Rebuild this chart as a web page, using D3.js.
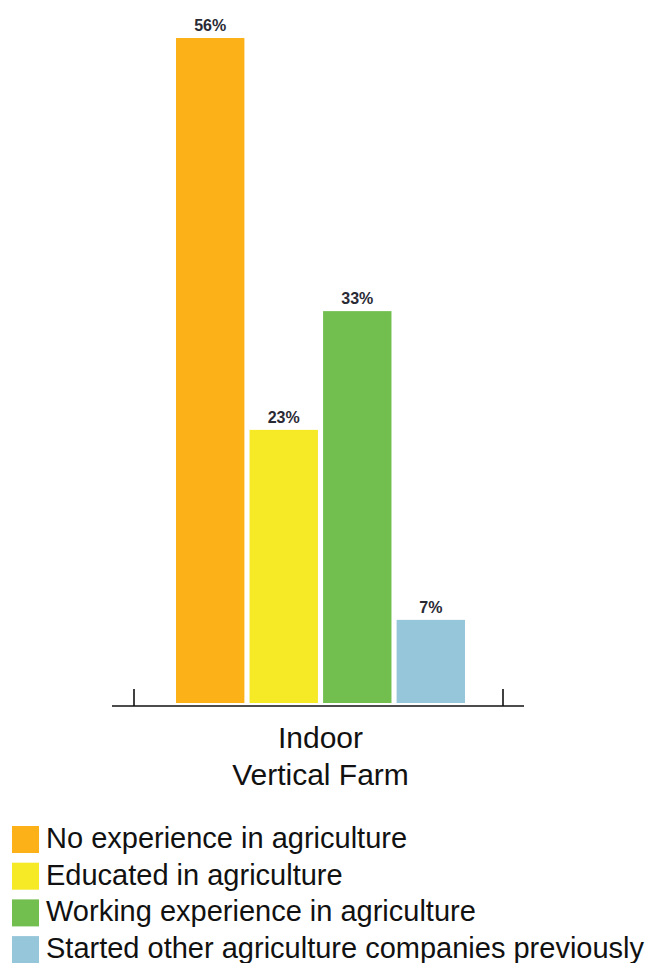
<!DOCTYPE html>
<html>
<head>
<meta charset="utf-8">
<script src="https://cdn.jsdelivr.net/npm/d3@7"></script>
<style>
  body { margin: 0; background: #fff; }
  svg { display: block; font-family: "Liberation Sans", Arial, sans-serif; }
</style>
</head>
<body>
<div id="chart"></div>
<script>
// Data
const groups = ['Indoor Vertical Farm'];
const groupLines = [['Indoor', 'Vertical Farm']];
const series = [
    'No experience in agriculture',
    'Educated in agriculture',
    'Working experience in agriculture',
    'Started other agriculture companies previously'
];
const values = [56, 23, 33, 7];
const colors = ['#fcb118', '#f6e926', '#72bf4f', '#96c6d9'];

const width = 646;
const height = 963;

const svg = d3.select('#chart')
    .append('svg')
    .attr('width', width)
    .attr('height', height);

// Scales
const x0 = d3.scaleBand().domain(groups).range([134, 503]);
const x1 = d3.scaleBand()
    .domain(series)
    .range([42, x0.bandwidth() - 38])
    .paddingInner(0.07);
const y = d3.scaleLinear().domain([0, 56]).range([703, 38]);

const color = d3.scaleOrdinal().domain(series).range(colors);

const rows = series.map((s, i) => ({ series: s, value: values[i], group: groups[0] }));

// Bars
const g = svg.append('g')
    .selectAll('g')
    .data(groups)
    .join('g')
    .attr('transform', (d) => `translate(${x0(d)},0)`);

g.selectAll('rect')
    .data((grp) => rows.filter((r) => r.group === grp))
    .join('rect')
    .attr('x', (d) => x1(d.series))
    .attr('y', (d) => y(d.value))
    .attr('width', x1.bandwidth())
    .attr('height', (d) => y(0) - y(d.value))
    .attr('fill', (d) => color(d.series));

// Value labels
g.selectAll('text.val')
    .data((grp) => rows.filter((r) => r.group === grp))
    .join('text')
    .attr('class', 'val')
    .attr('x', (d) => x1(d.series) + x1.bandwidth() / 2)
    .attr('y', (d) => y(d.value) - 7)
    .attr('text-anchor', 'middle')
    .attr('font-size', 16)
    .attr('font-weight', 'bold')
    .attr('fill', '#2a2a35')
    .text((d) => d.value + '%');

// Axis: baseline with ticks at group edges
const axisY = 706;
const axis = svg.append('g').attr('stroke', '#111').attr('stroke-width', 1.6);
axis.append('line')
    .attr('x1', x0.range()[0] - 22)
    .attr('x2', x0.range()[1] + 21)
    .attr('y1', axisY)
    .attr('y2', axisY);

const edges = [x0(groups[0]), x0(groups[0]) + x0.bandwidth()];
axis.selectAll('line.tick')
    .data(edges)
    .join('line')
    .attr('class', 'tick')
    .attr('x1', (d) => d)
    .attr('x2', (d) => d)
    .attr('y1', axisY - 17)
    .attr('y2', axisY);

// Group label
svg.append('g')
    .selectAll('text')
    .data(groups)
    .join('text')
    .attr('text-anchor', 'middle')
    .attr('font-size', 30)
    .attr('fill', '#111')
    .each(function (d, i) {
        const cx = x0(d) + x0.bandwidth() / 2 + 2;
        d3.select(this).selectAll('tspan')
            .data(groupLines[i])
            .join('tspan')
            .attr('x', cx)
            .attr('y', (t, j) => 748 + j * 37)
            .text((t) => t);
    });

// Legend
const legend = svg.append('g')
    .attr('transform', 'translate(12, 826)');

const item = legend.selectAll('g')
    .data(series)
    .join('g')
    .attr('transform', (d, i) => `translate(0, ${i * 36.7})`);

item.append('rect')
    .attr('width', 27)
    .attr('height', 27)
    .attr('fill', (d) => color(d));

item.append('text')
    .attr('x', 34)
    .attr('y', 22)
    .attr('font-size', 29)
    .attr('fill', '#111')
    .text((d) => d);
</script>
</body>
</html>
